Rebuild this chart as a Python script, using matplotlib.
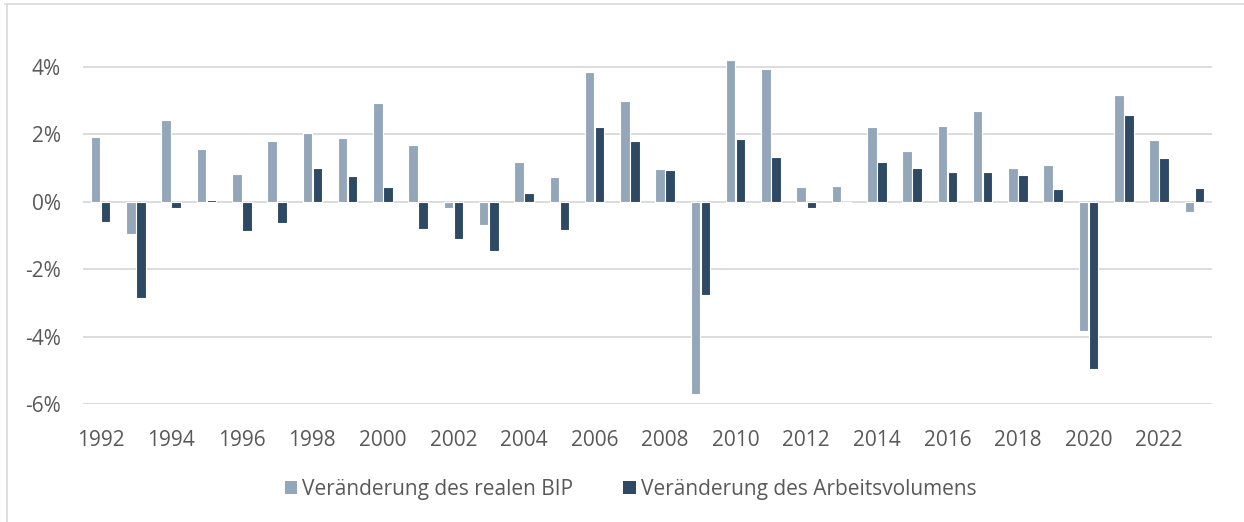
import matplotlib
matplotlib.use("Agg")
import matplotlib.pyplot as plt
from matplotlib.patches import Patch
from matplotlib.lines import Line2D
import numpy as np

# ---- Daten ----
jahre = list(range(1992, 2024))
bip = [1.93, -0.97, 2.41, 1.55, 0.81, 1.80, 2.03, 1.90, 2.93, 1.69,
       -0.20, -0.68, 1.18, 0.74, 3.83, 2.99, 0.97, -5.69, 4.19, 3.94,
       0.44, 0.46, 2.22, 1.50, 2.24, 2.69, 0.99, 1.09, -3.83, 3.17,
       1.82, -0.31]
arbeit = [-0.61, -2.87, -0.20, 0.05, -0.86, -0.63, 0.99, 0.75, 0.44, -0.81,
          -1.12, -1.46, 0.27, -0.84, 2.20, 1.79, 0.94, -2.77, 1.85, 1.31,
          -0.20, -0.03, 1.17, 0.99, 0.87, 0.88, 0.78, 0.36, -4.95, 2.57,
          1.30, 0.41]
y_ticks = [-6, -4, -2, 0, 2, 4]
label_bip = "Veränderung des realen BIP"
label_arbeit = "Veränderung des Arbeitsvolumens"

hell = "#94A7BA"
dunkel = "#2E4963"
grau_text = "#595959"

plt.rcParams["font.family"] = ["Open Sans", "DejaVu Sans"]

fig = plt.figure(figsize=(12.44, 5.22), dpi=100)
ax = fig.add_axes([83 / 1244, 1 - 404 / 522, (1212 - 83) / 1244, (404 - 53.2) / 522])

x = np.arange(len(jahre))
ax.bar(x - 0.142, bip, width=0.27, color=hell, edgecolor="white", linewidth=0.8, zorder=3)
ax.bar(x + 0.142, arbeit, width=0.27, color=dunkel, edgecolor="white", linewidth=0.8, zorder=3)

ax.set_xlim(-0.5, len(jahre) - 0.5)
ax.set_ylim(-6, 4.4)
ax.set_yticks(y_ticks)
ax.set_yticklabels([f"{v}%" for v in y_ticks])
ax.set_xticks(x[::2])
ax.set_xticklabels([str(j) for j in jahre[::2]])
for v in y_ticks:
    ax.axhline(v, color="#D9D9D9", linewidth=1.3, zorder=1)

for s in ax.spines.values():
    s.set_visible(False)
ax.tick_params(axis="both", length=0, labelsize=15, colors=grau_text)
ax.tick_params(axis="y", pad=16)
ax.tick_params(axis="x", pad=19)

handles = [Patch(facecolor=hell, edgecolor="none", label=label_bip),
           Patch(facecolor=dunkel, edgecolor="none", label=label_arbeit)]
fig.legend(handles=handles, loc="center", bbox_to_anchor=(0.507, 1 - 489 / 522), ncol=2,
           frameon=False, fontsize=15, labelcolor=grau_text, handlelength=0.6,
           handleheight=0.6, handletextpad=0.25, columnspacing=2.4)

# dünner Rahmen oben und links
fig.add_artist(Line2D([5 / 1244, 1], [1 - 3.5 / 522, 1 - 3.5 / 522], color="#D9D9D9", linewidth=1.2))
fig.add_artist(Line2D([6.5 / 1244, 6.5 / 1244], [0, 1 - 3.5 / 522], color="#D9D9D9", linewidth=1.2))

fig.savefig("out.png", dpi=100)
